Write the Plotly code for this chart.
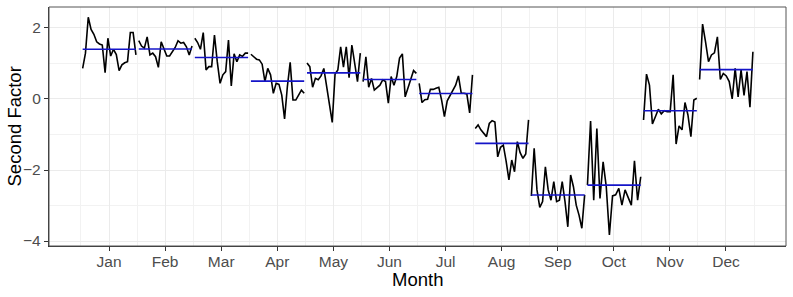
import plotly.graph_objects as go

month_labels = ["Jan", "Feb", "Mar", "Apr", "May", "Jun",
                "Jul", "Aug", "Sep", "Oct", "Nov", "Dec"]

jan = [0.86, 1.29, 2.30, 1.96, 1.82, 1.61, 1.55, 1.52, 0.74, 1.71,
       1.21, 1.40, 1.25, 0.80, 0.96, 1.02, 1.05, 1.87, 1.87, 1.24]
feb = [1.64, 1.49, 1.43, 1.75, 1.24, 1.29, 1.19, 0.89, 1.61, 1.40,
       1.21, 1.21, 1.33, 1.45, 1.64, 1.57, 1.59, 1.47, 1.24, 1.49]
mar = [1.71, 1.59, 1.40, 1.87, 0.82, 0.91, 0.91, 1.80, 1.05, 0.44,
       0.68, 0.77, 1.66, 0.37, 1.27, 1.05, 1.24, 1.20, 1.29, 1.29]
apr = [1.26, 1.19, 1.12, 1.10, 0.98, 0.49, 0.86, 0.68, 0.16, 0.44,
       0.41, 0.11, -0.56, 0.35, 1.03, -0.03, -0.03, 0.11, 0.25, 0.16]
may = [1.01, 0.91, 0.33, 0.58, 0.54, 0.65, 0.86, 0.39, -0.10, -0.66,
       0.70, 0.82, 1.47, 0.90, 1.47, 0.60, 1.52, 0.95, 0.49, 1.29]
jun = [0.49, 1.19, 0.33, 0.58, 0.25, 0.33, 0.39, 0.54, 0.49, -0.12,
       0.63, 0.39, 0.63, 1.15, 1.27, 0.06, 0.30, 0.54, 0.80, 0.72]
jul = [0.44, -0.10, -0.02, -0.01, 0.27, 0.27, 0.30, 0.33, -0.03, -0.50,
       -0.05, 0.10, 0.27, 0.39, 0.65, 0.16, 0.16, 0.14, -0.39, 0.68]
aug = [-0.83, -0.73, -0.87, -0.97, -1.06, -0.69, -0.61, -0.65, -1.63, -1.36,
       -1.30, -1.75, -2.28, -1.72, -2.05, -1.20, -1.51, -1.67, -1.55, -0.59]
sep = [-2.73, -1.39, -2.56, -3.05, -2.89, -1.91, -2.56, -2.85, -2.33, -2.89,
       -2.85, -2.33, -2.89, -3.60, -2.14, -2.47, -2.99, -3.27, -3.64, -2.70]
oct_ = [-2.42, -0.62, -2.85, -0.83, -2.80, -1.77, -2.47, -3.83, -2.73, -2.70,
        -2.52, -2.99, -2.56, -2.80, -2.99, -1.74, -2.85, -2.19]
nov = [-0.59, 0.70, 0.39, -0.70, -0.50, -0.29, -0.42, -0.33, -0.36, -0.36,
       0.68, -1.27, -0.76, -0.87, -0.10, -0.45, -1.06, -0.03, 0.02]
dec = [0.55, 2.11, 1.61, 1.05, 1.24, 1.30, 1.75, 0.55, 0.72, 0.65,
       0.49, 0.00, 0.86, 0.06, 0.82, 0.10, 0.77, -0.23, 1.33]

series = [jan, feb, mar, apr, may, jun, jul, aug, sep, oct_, nov, dec]

FONT = "Liberation Sans, Arial, sans-serif"

fig = go.Figure()
for m, vals in enumerate(series, start=1):
    n = len(vals)
    lo, hi = m - 0.47, m + 0.48
    xs = [lo + (hi - lo) * i / (n - 1) for i in range(n)]
    fig.add_trace(go.Scatter(x=xs, y=vals, mode="lines",
                             line=dict(color="black", width=1.6),
                             showlegend=False, hoverinfo="skip"))
    mean = sum(vals) / n
    fig.add_trace(go.Scatter(x=[lo, hi], y=[mean, mean], mode="lines",
                             line=dict(color="#1414C8", width=1.6),
                             showlegend=False, hoverinfo="skip"))

fig.update_layout(
    width=793, height=297,
    margin=dict(l=49, r=7, t=7, b=51),
    paper_bgcolor="white", plot_bgcolor="white",
    font=dict(family=FONT, size=15, color="#4D4D4D"),
    shapes=[dict(type="rect", xref="paper", yref="paper", x0=0, x1=1, y0=0, y1=1,
                 line=dict(color="#555555", width=1), layer="above")],
    annotations=[
        dict(text="Month", xref="paper", yref="paper", x=0.5, y=0,
             xanchor="center", yanchor="middle", yshift=-33, showarrow=False,
             font=dict(size=18.5, color="black", family=FONT)),
        dict(text="Second Factor", xref="paper", yref="paper", x=0, y=0.5,
             xanchor="center", yanchor="middle", xshift=-35, textangle=-90,
             showarrow=False, font=dict(size=18.5, color="black", family=FONT)),
    ],
)
fig.update_xaxes(
    range=[-0.07, 13.07], automargin=False,
    tickmode="array", tickvals=list(range(1, 13)), ticktext=month_labels,
    showgrid=True, gridcolor="#EBEBEB", gridwidth=1.1,
    minor=dict(tickmode="array", tickvals=[k + 0.5 for k in range(0, 13)],
               showgrid=True, gridcolor="#F2F2F2", gridwidth=0.6),
    zeroline=False,
    showline=True, linecolor="#333333", linewidth=1.3,
    ticks="outside", ticklen=4, tickcolor="#333333", tickwidth=1,
    tickfont=dict(size=15.5, color="#4D4D4D"), ticklabelstandoff=-3,
)
fig.update_yaxes(
    range=[-4.14, 2.59], automargin=False,
    tickmode="array", tickvals=[-4, -2, 0, 2],
    showgrid=True, gridcolor="#EBEBEB", gridwidth=1.1,
    minor=dict(tickmode="array", tickvals=[-3, -1, 1],
               showgrid=True, gridcolor="#F2F2F2", gridwidth=0.6),
    zeroline=False,
    showline=True, linecolor="#333333", linewidth=1.3,
    ticks="outside", ticklen=4, tickcolor="#333333", tickwidth=1,
    tickfont=dict(size=15.5, color="#4D4D4D"),
)

fig.write_html("out.html", config={"displayModeBar": False},
               post_script="document.body.style.margin='0px';document.body.style.padding='0px';")
